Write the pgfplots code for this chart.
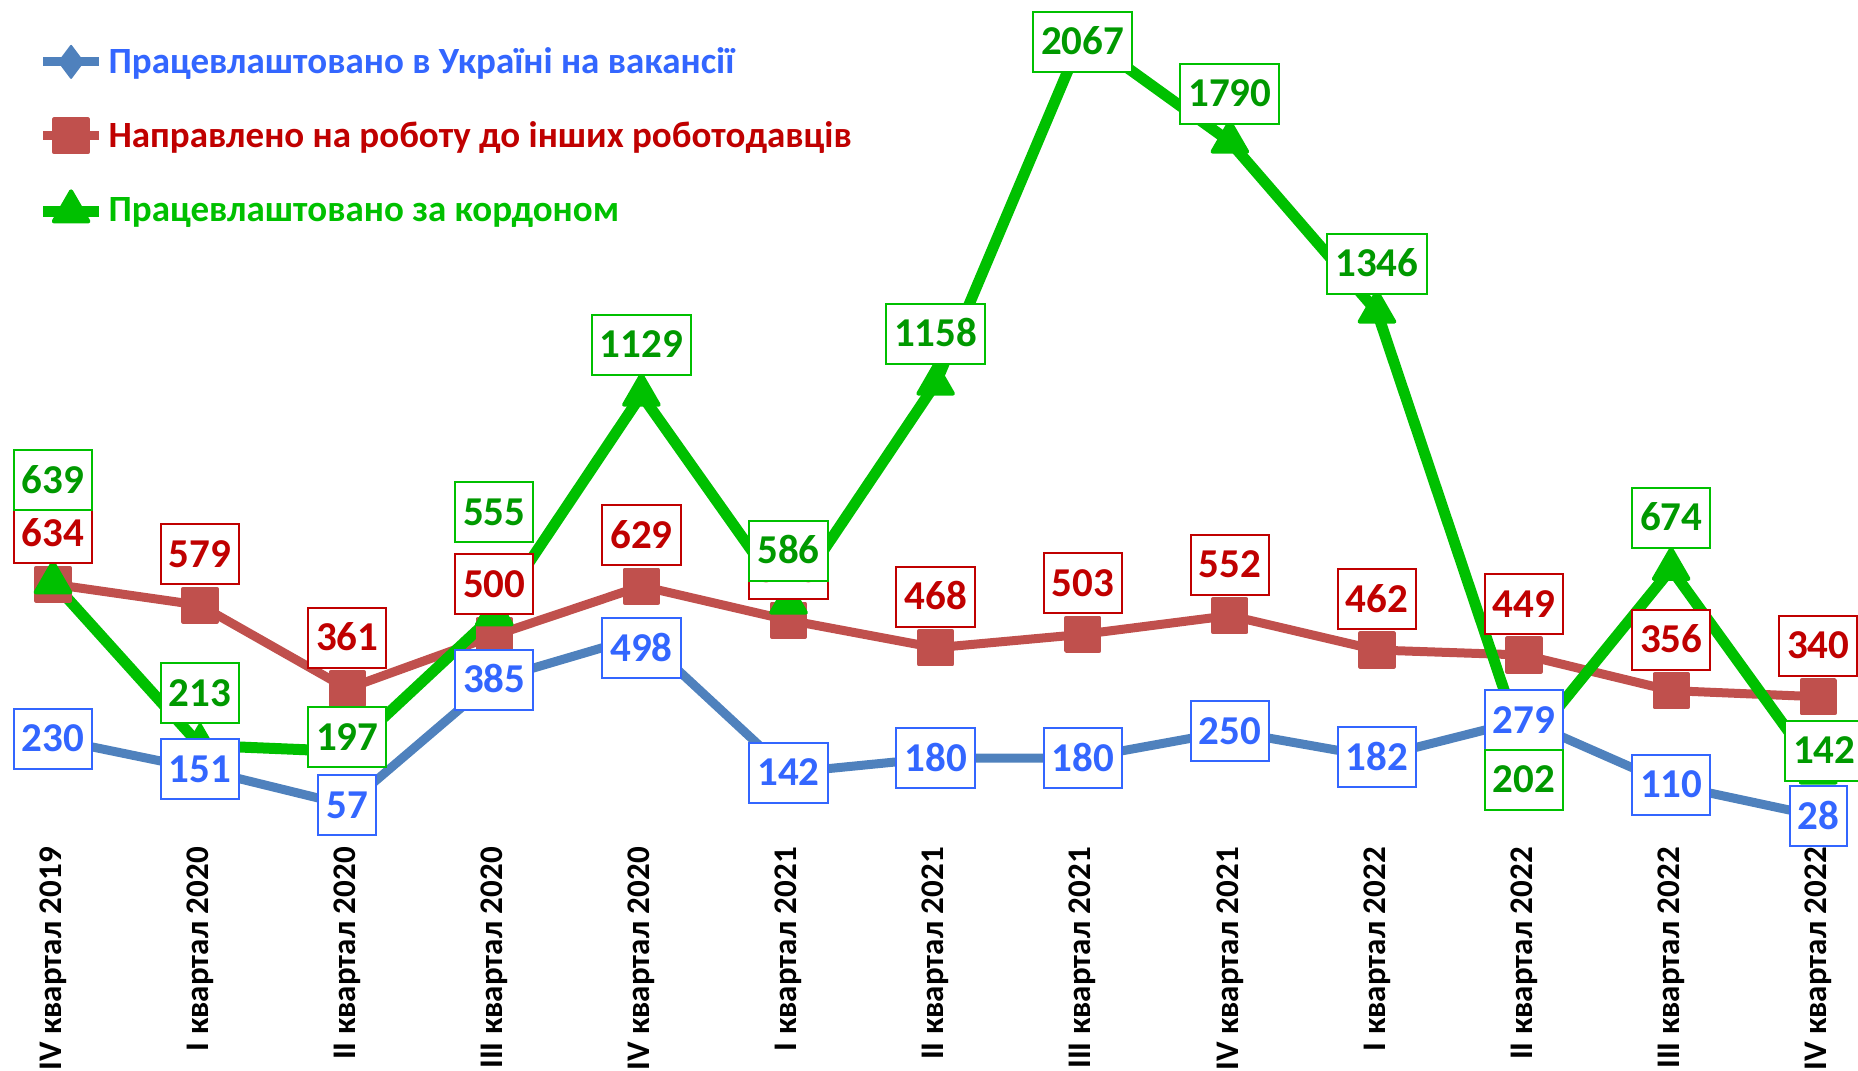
\documentclass[border=0pt]{standalone}
\usepackage{pgfplots}
\pgfplotsset{compat=1.18}
\usepackage{pgfplotstable}
\usepackage{fontspec}
\setmainfont{Carlito}
\definecolor{bline}{HTML}{4F81BD}
\definecolor{btext}{HTML}{3366FF}
\definecolor{rline}{HTML}{C0504D}
\definecolor{rtext}{HTML}{C00000}
\definecolor{gline}{HTML}{00C000}
\definecolor{gtext}{HTML}{009900}

\pgfplotstableread{
x y off xo
0 230 0 0
1 151 0 0
2 57 0 0
3 385 0 0
4 498 -6 0
5 142 0 0
6 180 0 0
7 180 0 0
8 250 0 0
9 182 0 0
10 279 0 0
11 110 0 0
12 28 0 0
}\bluedata

\pgfplotstableread{
x y off xo
0 634 25.5 0
1 579 25.5 0
2 361 25.5 0
3 500 25.5 0
4 629 25.5 0
5 540 25.5 0
6 468 25.5 0
7 503 25.5 0
8 552 25.5 0
9 462 25.5 0
10 449 25.5 0
11 356 25.5 0
12 340 25.5 0
}\reddata

\pgfplotstableread{
x y off xo
0 639 51 0
1 213 26 0
2 197 7 0
3 555 51 0
4 1129 25 0
5 586 26 0
6 1158 25 0
7 2067 -3 0
8 1790 24 0
9 1346 24 0
10 202 -15 0
11 674 25.5 0
12 142 11 3
}\greendata

\pgfplotsset{
  lbl/.style={draw=none, mark=none, forget plot,
    point meta=explicit symbolic,
    nodes near coords,
    every node near coord/.append style={anchor=center,
      draw=#1, line width=1pt, fill=white, font=\bfseries\fontsize{20.5}{24}\selectfont,
      inner xsep=4pt, inner ysep=0pt, minimum height=30pt, text height=13pt, text depth=0pt}},
}

\begin{document}
\begin{tikzpicture}
\begin{axis}[
  x=73.55pt, y=0.1914pt,
  xmin=-0.36, xmax=12.27,
  ymin=0, ymax=2160,
  clip=false,
  axis line style={draw=none},
  tick style={draw=none},
  major tick length=0pt,
  ytick=\empty,
  xtick={0,...,12},
  xticklabels={IV квартал 2019, I квартал 2020, II квартал 2020, III квартал 2020, IV квартал 2020, I квартал 2021, II квартал 2021, III квартал 2021, IV квартал 2021, I квартал 2022, II квартал 2022, III квартал 2022, IV квартал 2022},
  xticklabel style={rotate=90, anchor=east, font=\bfseries\fontsize{16.5}{19}\selectfont, text=black, inner sep=0pt},
  xticklabel shift=10pt,
  legend cell align=left,
  legend style={draw=none, fill=none, at={(axis description cs:0.02,0.948)}, anchor=north west,
    font=\bfseries\fontsize{18.5}{22}\selectfont, row sep=18.5pt, inner sep=0pt},
  legend image code/.code={\draw[#1, mark repeat=2, mark phase=2] plot coordinates {(0pt,0pt) (14pt,0pt) (28pt,0pt)};},
]
% lines
\addplot[color=bline, line width=4.5pt, line join=round, mark=diamond*, mark size=8pt,
  mark options={solid, line width=1pt}] table[x=x,y=y] {\bluedata};
\addlegendentry{\textcolor{btext}{Працевлаштовано в Україні на вакансії}}
\addplot[color=rline, line width=4.5pt, line join=round, mark=square*, mark size=8.3pt,
  mark options={solid, line width=2pt, line join=round}] table[x=x,y=y] {\reddata};
\addlegendentry{\textcolor{rtext}{Направлено на роботу до інших роботодавців}}
\addplot[color=gline, line width=5.5pt, line join=round, mark=triangle*, mark size=10pt,
  mark options={solid, line width=2pt, line join=round}] table[x=x,y=y] {\greendata};
\addlegendentry{\textcolor{gline}{Працевлаштовано за кордоном}}
% labels
\addplot[lbl=btext, text=btext] table[x expr=\thisrow{x}+\thisrow{xo}/73.55, y expr=\thisrow{y}+\thisrow{off}/0.1914, meta=y] {\bluedata};
\addplot[lbl=rtext, text=rtext] table[x expr=\thisrow{x}+\thisrow{xo}/73.55, y expr=\thisrow{y}+\thisrow{off}/0.1914, meta=y] {\reddata};
\addplot[lbl=gline, text=gtext] table[x expr=\thisrow{x}+\thisrow{xo}/73.55, y expr=\thisrow{y}+\thisrow{off}/0.1914, meta=y] {\greendata};
\end{axis}
\pgfresetboundingbox
\path[use as bounding box] (current axis.south west |- current axis.outer south) rectangle (current axis.north east);
\end{tikzpicture}
\end{document}
